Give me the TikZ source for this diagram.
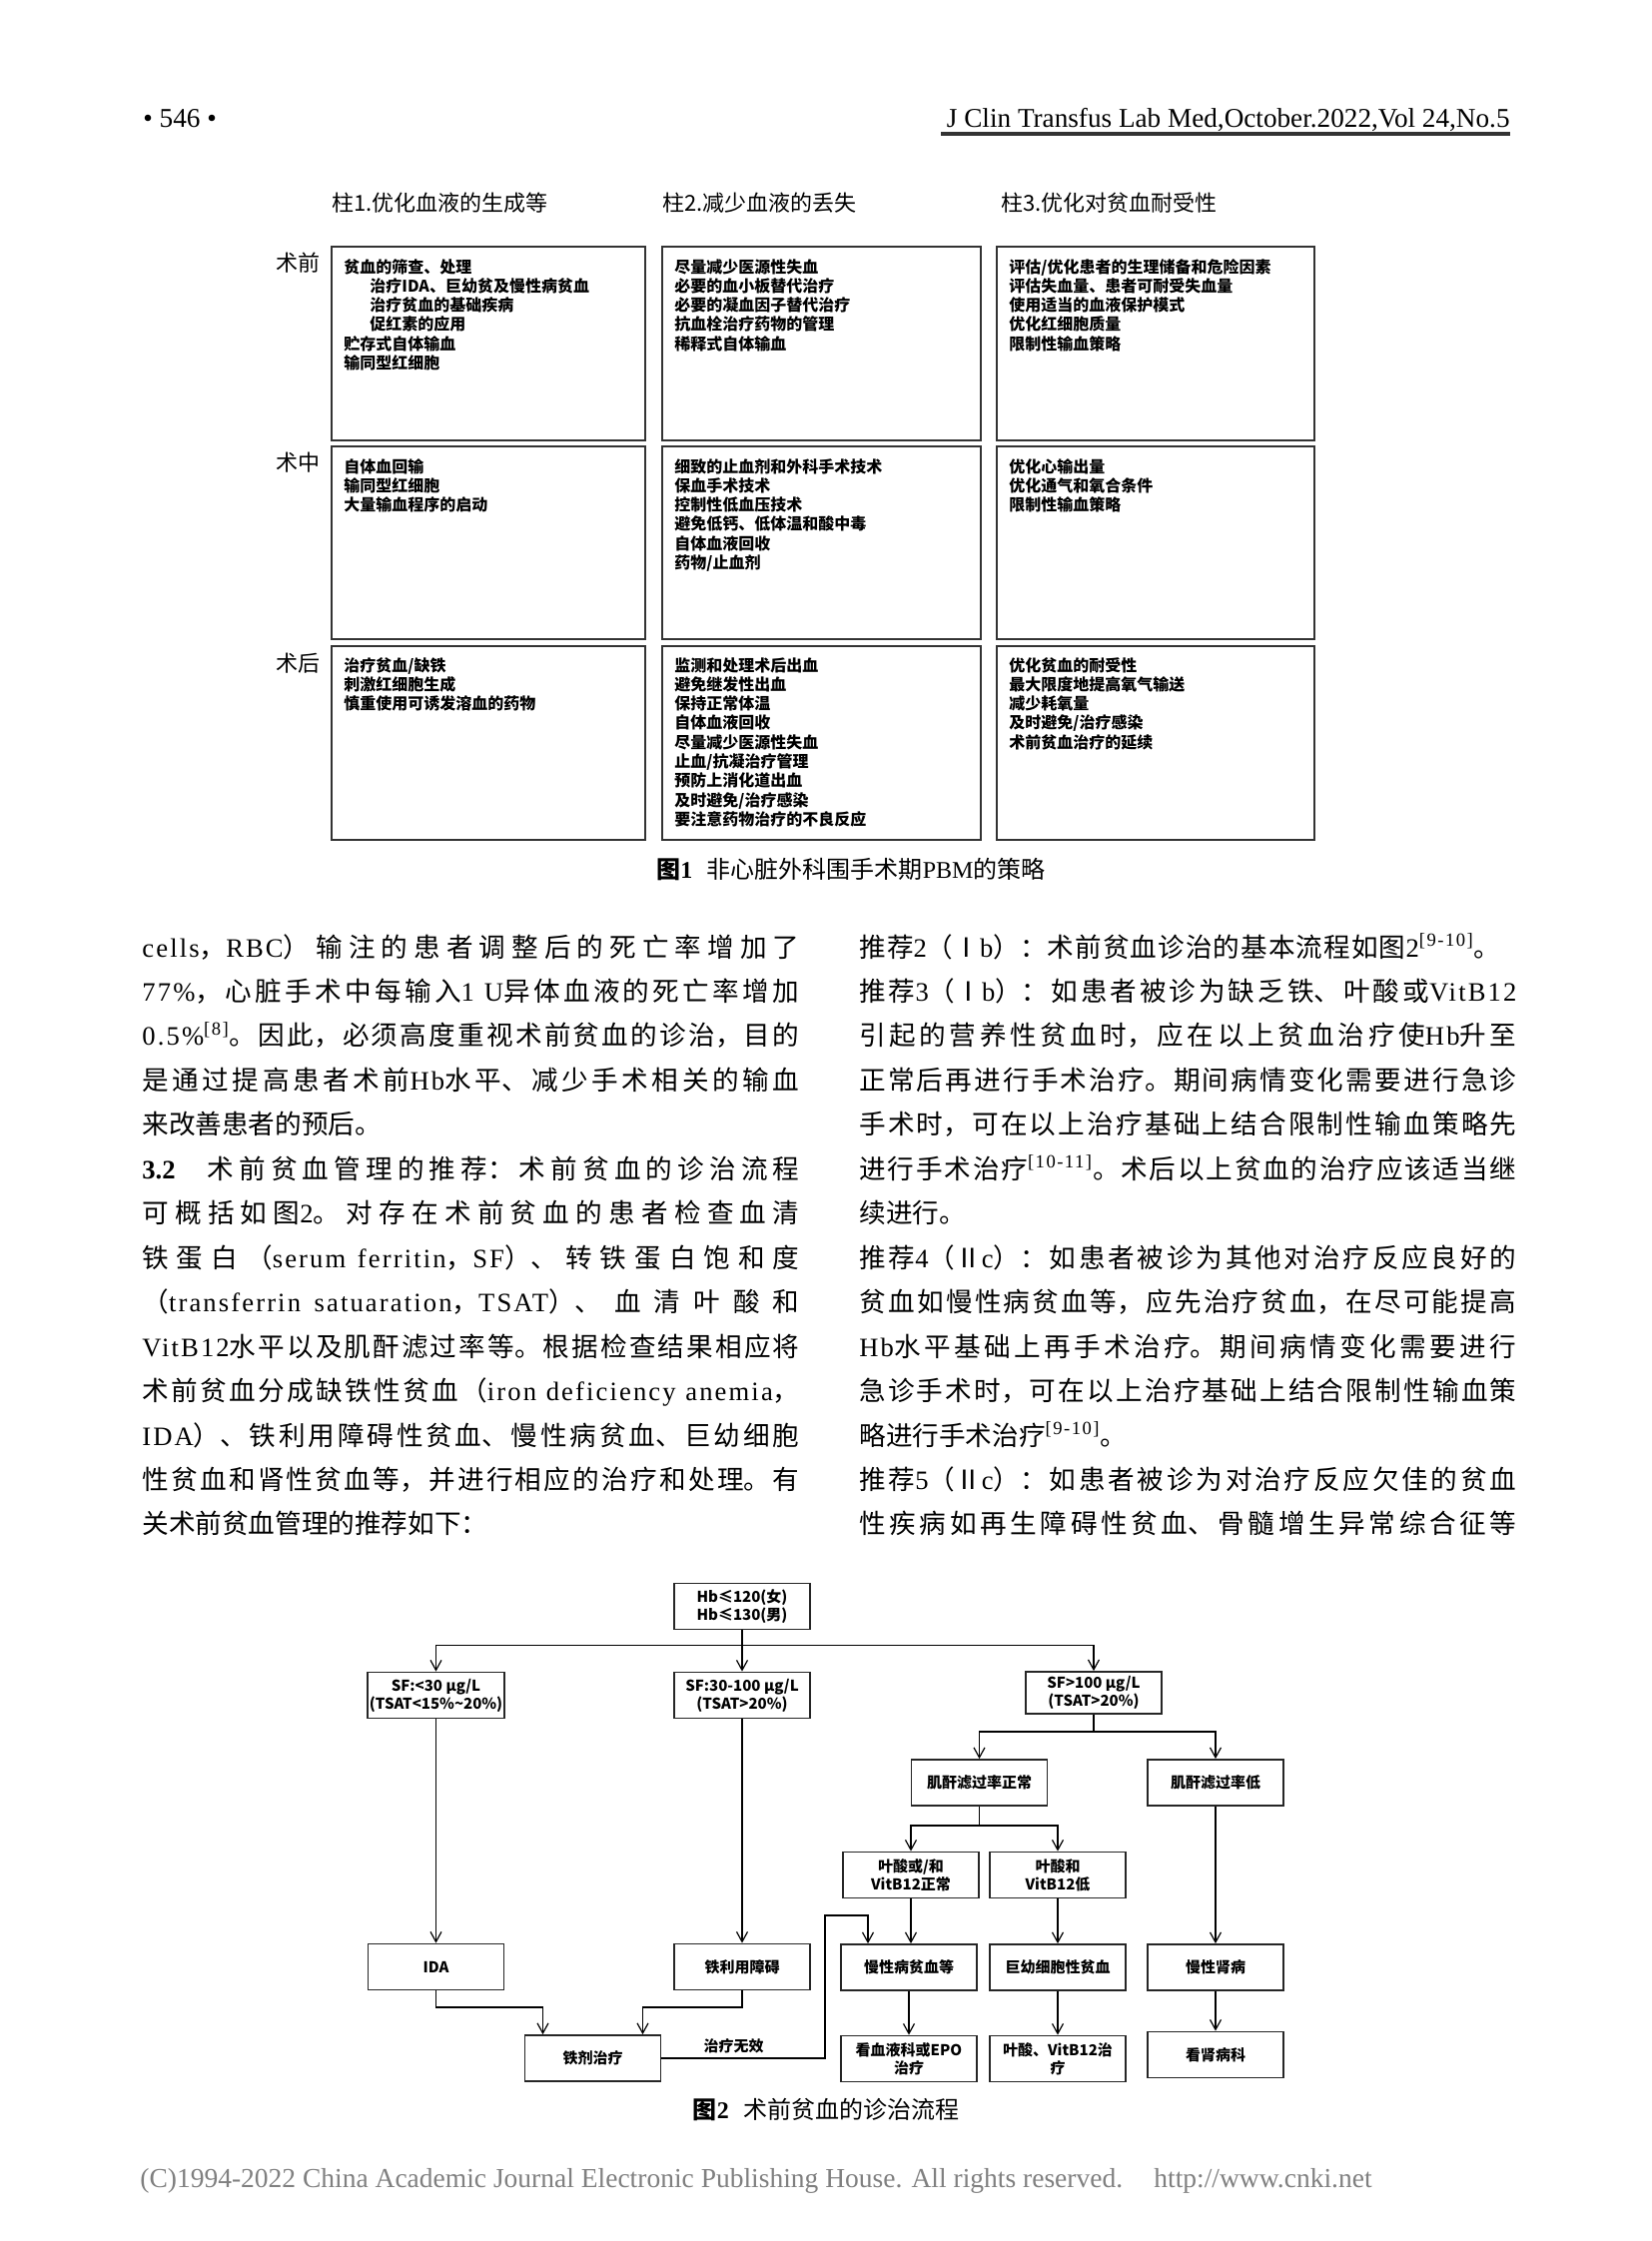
\documentclass[tikz,border=0pt]{standalone}
\usepackage{fontspec}
\setmainfont{Noto Sans CJK SC}
\newfontfamily\lat{Liberation Serif}
\newfontfamily\latsp{Liberation Serif}[LetterSpace=8]
\usetikzlibrary{arrows.meta,calc,positioning}
\XeTeXlinebreaklocale "zh"
\XeTeXlinebreakskip=0pt plus 6pt
\newcommand\la[1]{{\latsp #1}}
\newcommand\bodyfont{\fontsize{13.3}{22}\selectfont}
\newcommand\fullline[2][329pt]{\parbox[b]{#1}{\parfillskip=0pt\relax #2\par}}
\tikzset{cell/.style={draw=black!80,line width=1pt},
         celltxt/.style={anchor=base west,inner sep=0pt,font=\fontsize{8}{9}\selectfont\bfseries},
         rowlbl/.style={anchor=base west,inner sep=0pt,font=\fontsize{11}{12}\selectfont},
         body/.style={anchor=base west,inner sep=0pt,font=\bodyfont},
         figcap/.style={anchor=base,inner sep=0pt,font=\fontsize{12}{13}\selectfont},
         fbox/.style={draw=black!85,line width=0.9pt,minimum width=68pt,minimum height=23pt,
                      inner sep=1pt,align=center,font=\fontsize{7.5}{9}\selectfont\bfseries},
         flow/.style={-{Straight Barb[length=5pt,width=5.5pt]},line width=0.6pt}}
% one cell of figure 1: name, x, first baseline, lines
\newcommand\cellrows[4]{%
  \foreach \txt [count=\i from 0] in {#4}
    \node[celltxt] (#1-\i) at (#2,{#3+19.3*\i}) {\txt};}

\begin{document}
\begin{tikzpicture}[x=0.5pt,y=-0.5pt]
\fill[white] (0,0) rectangle (1654,2244);
\useasboundingbox (0,0) rectangle (1654,2244);
% running head
\node[anchor=base west,inner sep=0pt,font=\lat\fontsize{13.6}{15}\selectfont] (pno) at (143,127) {• 546 •};
\node[anchor=base east,inner sep=0pt,font=\lat\fontsize{13.6}{15}\selectfont] (jhead) at (1512,127)
   {J Clin Transfus Lab Med,October.2022,Vol 24,No.5};
\coordinate (rule) at (942,134);
\draw[black!80,line width=1.6pt] (rule) -- (rule -| jhead.east);

% figure 1: grid
\foreach \xa/\xb in {332/646,663/982,998/1316}
  \foreach \ya/\yb in {247/441,447/640,647/841}
    \draw[cell] (\xa,\ya) rectangle (\xb,\yb);
\node[rowlbl] (hd1) at (332,211) {柱1.优化血液的生成等};
\node[rowlbl] (hd2) at (663,211) {柱2.减少血液的丢失};
\node[rowlbl] (hd3) at (1002,211) {柱3.优化对贫血耐受性};
\node[rowlbl] (pre) at (276,271) {术前};
\node[rowlbl] (intra) at (276,471) {术中};
\node[rowlbl] (post) at (276,672) {术后};
% pillar 1
\cellrows{a1}{344}{273}{贫血的筛查、处理,\hspace*{13pt}治疗IDA、巨幼贫及慢性病贫血,\hspace*{13pt}治疗贫血的基础疾病,
  \hspace*{13pt}促红素的应用,贮存式自体输血,输同型红细胞}
\cellrows{a2}{344}{473}{自体血回输,输同型红细胞,大量输血程序的启动}
\cellrows{a3}{344}{672}{治疗贫血/缺铁,刺激红细胞生成,慎重使用可诱发溶血的药物}
% pillar 2
\cellrows{b1}{675}{273}{尽量减少医源性失血,必要的血小板替代治疗,必要的凝血因子替代治疗,抗血栓治疗药物的管理,稀释式自体输血}
\cellrows{b2}{675}{473}{细致的止血剂和外科手术技术,保血手术技术,控制性低血压技术,避免低钙、低体温和酸中毒,自体血液回收,药物/止血剂}
\cellrows{b3}{675}{672}{监测和处理术后出血,避免继发性出血,保持正常体温,自体血液回收,尽量减少医源性失血,
  止血/抗凝治疗管理,预防上消化道出血,及时避免/治疗感染,要注意药物治疗的不良反应}
% pillar 3
\cellrows{c1}{1010}{273}{评估/优化患者的生理储备和危险因素,评估失血量、患者可耐受失血量,使用适当的血液保护模式,优化红细胞质量,限制性输血策略}
\cellrows{c2}{1010}{473}{优化心输出量,优化通气和氧合条件,限制性输血策略}
\cellrows{c3}{1010}{672}{优化贫血的耐受性,最大限度地提高氧气输送,减少耗氧量,及时避免/治疗感染,术前贫血治疗的延续}
\node[figcap] (cap1) at (852,879) {{\bfseries 图{\lat\bfseries 1}}\hspace{0.6em}非心脏外科围手术期{\lat PBM}的策略};

% body text, left column
\node[body] (l1) at (142,958) {\fullline{\la{cells}，\la{RBC}）输注的患者调整后的死亡率增加了}};
\node[body] (l2) at (142,1002.5) {\fullline{\la{77\%}，心脏手术中每输入\la{1 U}异体血液的死亡率增加}};
\node[body] (l3) at (142,1046.9) {\fullline{\la{0.5\%\textsuperscript{[8]}}。因此，必须高度重视术前贫血的诊治，目的}};
\node[body] (l4) at (142,1091.4) {\fullline{是通过提高患者术前\la{Hb}水平、减少手术相关的输血}};
\node[body] (l5) at (142,1135.8) {来改善患者的预后。};
\node[body] (l6) at (142,1180.3) {\fullline{{\lat\bfseries 3.2}\hspace{1.2em}术前贫血管理的推荐：术前贫血的诊治流程}};
\node[body] (l7) at (142,1224.7) {\fullline{可概括如图\la{2}。对存在术前贫血的患者检查血清}};
\node[body] (l8) at (142,1269.2) {\fullline{铁蛋白（\la{serum ferritin}，\la{SF}）、转铁蛋白饱和度}};
\node[body] (l9) at (142,1313.6) {\fullline{（\la{transferrin satuaration}，\la{TSAT}）、血清叶酸和}};
\node[body] (l10) at (142,1358.1) {\fullline{\la{VitB12}水平以及肌酐滤过率等。根据检查结果相应将}};
\node[body] (l11) at (142,1402.5) {\fullline{术前贫血分成缺铁性贫血（\la{iron deficiency anemia}，}};
\node[body] (l12) at (142,1447) {\fullline{\la{IDA}）、铁利用障碍性贫血、慢性病贫血、巨幼细胞}};
\node[body] (l13) at (142,1491.4) {\fullline{性贫血和肾性贫血等，并进行相应的治疗和处理。有}};
\node[body] (l14) at (142,1535.9) {关术前贫血管理的推荐如下：};
% body text, right column
\node[body] (r1) at (860,958) {\fullline[321pt]{推荐\la{2}（Ⅰ\la{b}）：术前贫血诊治的基本流程如图\la{2\textsuperscript{[9-10]}}。}};
\node[body] (r2) at (860,1002.5) {\fullline{推荐\la{3}（Ⅰ\la{b}）：如患者被诊为缺乏铁、叶酸或\la{VitB12}}};
\node[body] (r3) at (860,1046.9) {\fullline{引起的营养性贫血时，应在以上贫血治疗使\la{Hb}升至}};
\node[body] (r4) at (860,1091.4) {\fullline{正常后再进行手术治疗。期间病情变化需要进行急诊}};
\node[body] (r5) at (860,1135.8) {\fullline{手术时，可在以上治疗基础上结合限制性输血策略先}};
\node[body] (r6) at (860,1180.3) {\fullline{进行手术治疗\la{\textsuperscript{[10-11]}}。术后以上贫血的治疗应该适当继}};
\node[body] (r7) at (860,1224.7) {续进行。};
\node[body] (r8) at (860,1269.2) {\fullline{推荐\la{4}（Ⅱ\la{c}）：如患者被诊为其他对治疗反应良好的}};
\node[body] (r9) at (860,1313.6) {\fullline{贫血如慢性病贫血等，应先治疗贫血，在尽可能提高}};
\node[body] (r10) at (860,1358.1) {\fullline{\la{Hb}水平基础上再手术治疗。期间病情变化需要进行}};
\node[body] (r11) at (860,1402.5) {\fullline{急诊手术时，可在以上治疗基础上结合限制性输血策}};
\node[body] (r12) at (860,1447) {略进行手术治疗\la{\textsuperscript{[9-10]}}。};
\node[body] (r13) at (860,1491.4) {\fullline{推荐\la{5}（Ⅱ\la{c}）：如患者被诊为对治疗反应欠佳的贫血}};
\node[body] (r14) at (860,1535.9) {\fullline{性疾病如再生障碍性贫血、骨髓增生异常综合征等}};

% figure 2: boxes
\node[fbox] (hb) at (743,1608.5) {Hb≤120(女)\\Hb≤130(男)};
\node[fbox] (sfa) at (436.5,1697.5) {SF:<30 μg/L\\(TSAT<15\%\textasciitilde20\%)};
\node[fbox] (sfb) at (743,1697.5) {SF:30-100 μg/L\\(TSAT>20\%)};
\node[fbox,minimum height=21pt] (sfc) at (1095,1695) {SF>100 μg/L\\(TSAT>20\%)};
\node[fbox] (crn) at (980.5,1785) {肌酐滤过率正常};
\node[fbox] (crl) at (1217,1785) {肌酐滤过率低};
\node[fbox] (fn) at (912,1877.5) {叶酸或/和\\VitB12正常};
\node[fbox] (fl) at (1059,1877.5) {叶酸和\\VitB12低};
\node[fbox] (ida) at (436.5,1969.5) {IDA};
\node[fbox] (iru) at (743,1969.5) {铁利用障碍};
\node[fbox] (acd) at (910,1970) {慢性病贫血等};
\node[fbox] (mega) at (1059,1970) {巨幼细胞性贫血};
\node[fbox] (ckd) at (1217,1970) {慢性肾病};
\node[fbox] (iron) at (593.5,2061) {铁剂治疗};
\node[fbox] (hem) at (910,2061.5) {看血液科或EPO\\治疗};
\node[fbox] (fol) at (1059,2061.5) {叶酸、VitB12治\\疗};
\node[fbox] (neph) at (1217,2057.5) {看肾病科};
% figure 2: connectors
\coordinate (busa) at (0,1647.5);
\coordinate (busb) at (0,1734);
\coordinate (busc) at (0,1828);
\coordinate (knee) at (0,2010);
\coordinate (back) at (826,1918);
\coordinate (ironl) at ($(iron.north)+(-50,0)$);
\coordinate (ironr) at ($(iron.north)+(50,0)$);
\coordinate (acdin) at ($(acd.north)+(-41,0)$);
\draw[flow] (hb.south) -- (sfb.north);
\draw[flow] (hb.south |- busa) -| (sfa.north);
\draw[flow] (hb.south |- busa) -| (sfc.north);
\draw[line width=0.6pt] (sfc.south) -- (sfc.south |- busb);
\draw[flow] (sfc.south |- busb) -| (crn.north);
\draw[flow] (sfc.south |- busb) -| (crl.north);
\draw[line width=0.6pt] (crn.south) -- (crn.south |- busc);
\draw[flow] (crn.south |- busc) -| (fn.north);
\draw[flow] (crn.south |- busc) -| (fl.north);
\draw[flow] (sfa) -- (ida);
\draw[flow] (sfb) -- (iru);
\draw[flow] (crl) -- (ckd);
\draw[flow] (fn.south) -- (fn.south |- acd.north);
\draw[flow] (fl) -- (mega);
\draw[flow] (ida.south) -- (ida.south |- knee) -| (ironl);
\draw[flow] (iru.south) -- (iru.south |- knee) -| (ironr);
\draw[flow] (iron.east) -| (back) -| (acdin);
\node[inner sep=0pt,font=\fontsize{7.5}{9}\selectfont\bfseries] (fail) at (734.5,2049) {治疗无效};
\draw[flow] (acd) -- (hem);
\draw[flow] (mega) -- (fol);
\draw[flow] (ckd) -- (neph);
\node[figcap] (cap2) at (827,2121) {{\bfseries 图{\lat\bfseries 2}}\hspace{0.6em}术前贫血的诊治流程};

% footer
\node[anchor=base west,inner sep=0pt,text=black!50,font=\lat\fontsize{13.75}{15}\selectfont] (foot) at (140,2190)
   {(C)1994-2022 China Academic Journal Electronic Publishing House. All rights reserved.};
\node[anchor=base west,inner sep=0pt,text=black!50,font=\lat\fontsize{13.75}{15}\selectfont] (url) at (1155,2190)
   {http://www.cnki.net};
\end{tikzpicture}
\end{document}
